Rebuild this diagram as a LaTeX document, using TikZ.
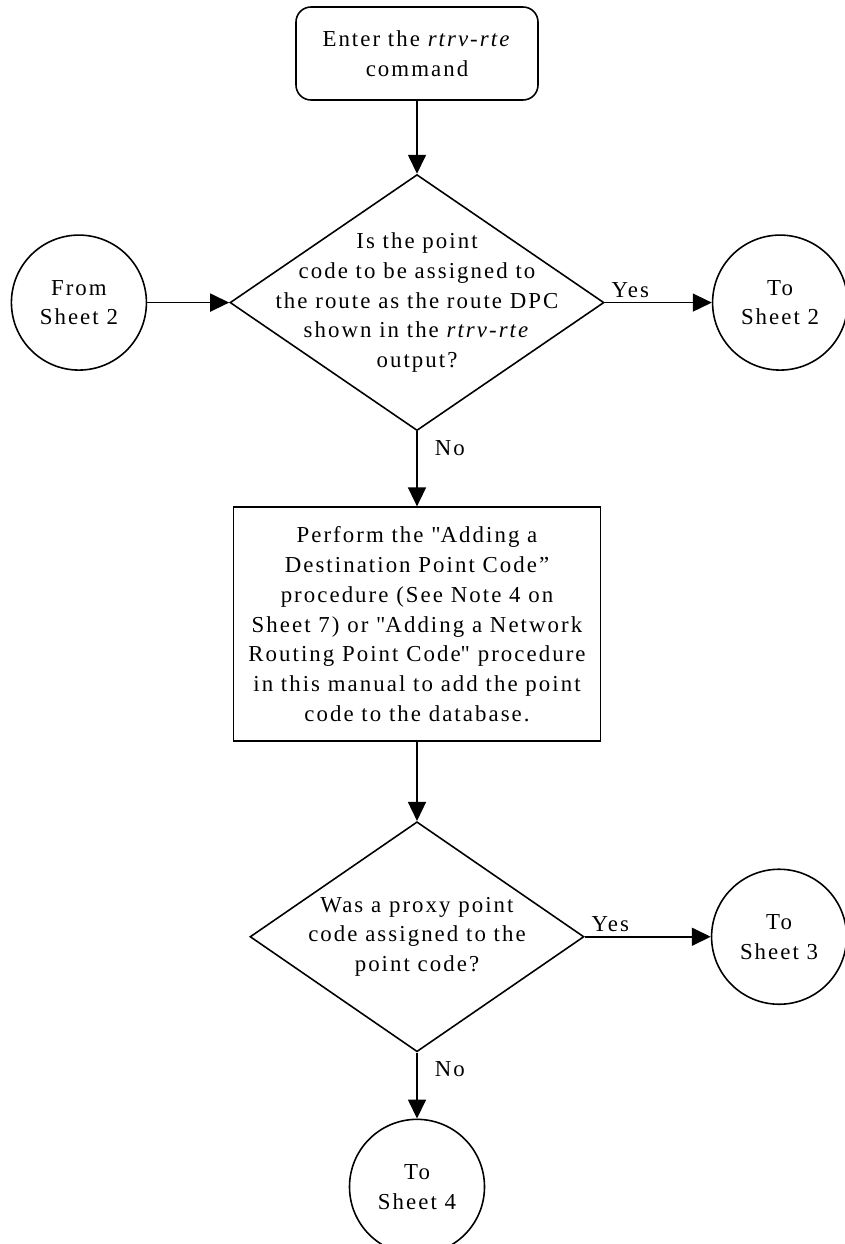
\documentclass[tikz,border=0pt]{standalone}
\usepackage{fontspec}
\setmainfont{Liberation Serif}[LetterSpace=9]
\usetikzlibrary{arrows.meta, positioning, shapes.geometric}

\begin{document}
\begin{tikzpicture}[
        font=\fontsize{13}{17}\selectfont,
        base/.style={draw=black, line width=0.9pt, align=center, inner sep=0pt},
        startbox/.style={base, rectangle, rounded corners=0.3cm,
                  minimum width=4.84cm, minimum height=1.86cm},
        procbox/.style={base, rectangle, minimum width=7.34cm, minimum height=4.68cm},
        dec/.style={base, diamond},
        qtext/.style={align=center, inner sep=0pt},
        sheet/.style={base, circle, minimum size=2.7cm},
        arr/.style={-{Triangle[length=0.38cm,width=0.36cm]}, line width=0.9pt},
        yes/.style={pos=0, anchor=south west, inner sep=0pt, xshift=0.12cm, yshift=0.09cm},
        no/.style={pos=0, anchor=north west, inner sep=0pt, xshift=0.34cm, yshift=-0.17cm}]
      \useasboundingbox (0,0) rectangle (16.9,-24.88);
      \node[startbox] (start) at (8.34,-1.07) {Enter the \textit{rtrv-rte}\\command};
      \node[dec, minimum width=7.48cm, minimum height=5.12cm, below=1.46cm of start,
            label={[qtext, name=q1]center:{Is the point\\code to be assigned to\\the route as the route DPC\\shown in the \textit{rtrv-rte}\\output?}}] (dec1) {};
      \node[sheet, left=1.64cm of dec1] (from2) {From\\Sheet 2};
      \node[sheet, right=2.14cm of dec1] (to2) {To\\Sheet 2};
      \node[procbox, below=1.5cm of dec1] (addpc) {Perform the \textquotedbl Adding a\\Destination Point Code”\\procedure (See Note 4 on\\Sheet 7) or \textquotedbl Adding a Network\\Routing Point Code\textquotedbl\ procedure\\in this manual to add the point\\code to the database.};
      \node[dec, minimum width=6.68cm, minimum height=4.6cm, below=1.58cm of addpc,
            label={[qtext, name=q2]center:{Was a proxy point\\code assigned to the\\point code?}}] (dec2) {};
      \node[sheet, right=2.52cm of dec2] (to3) {To\\Sheet 3};
      \node[sheet, below=1.32cm of dec2] (to4) {To\\Sheet 4};
      \draw[arr] (start) -- (dec1);
      \draw[arr] (from2) -- (dec1);
      \draw[arr] (dec1) -- node[yes] (yes1) {Yes} (to2);
      \draw[arr] (dec1) -- node[no] (no1) {No} (addpc);
      \draw[arr] (addpc) -- (dec2);
      \draw[arr] (dec2) -- node[yes] (yes2) {Yes} (to3);
      \draw[arr] (dec2) -- node[no] (no2) {No} (to4);
    \end{tikzpicture}
\end{document}
